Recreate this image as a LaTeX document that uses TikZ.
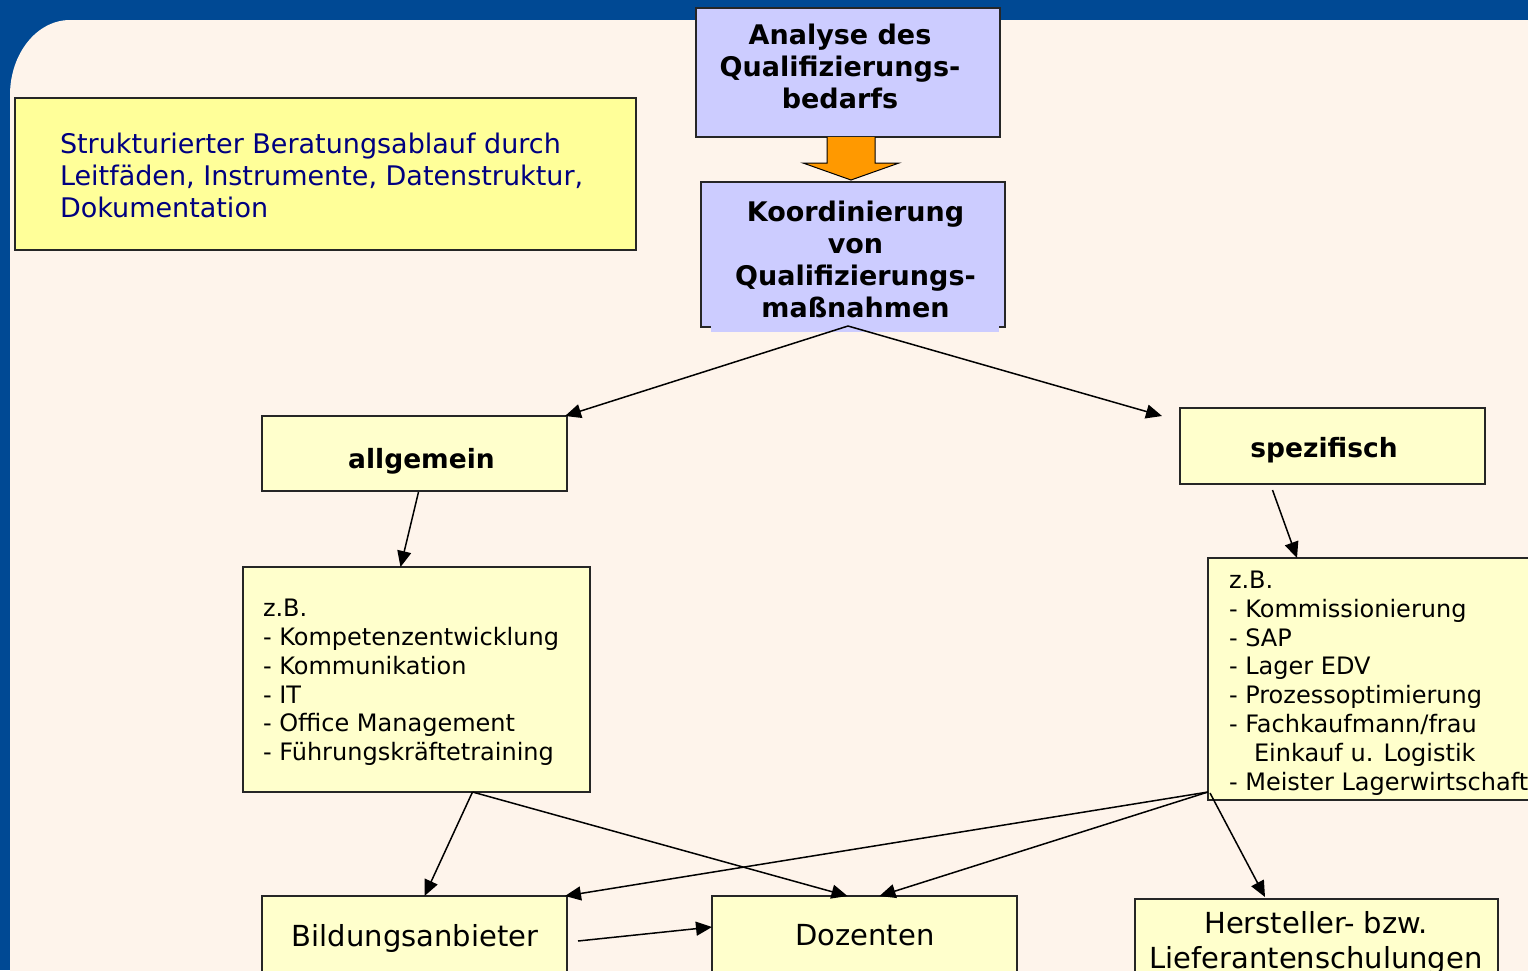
\documentclass[tikz,border=0pt]{standalone}
\usepackage{fontspec}
\setmainfont{DejaVu Sans}
\usetikzlibrary{arrows.meta,calc}
\definecolor{bgblue}{RGB}{0,73,148}
\definecolor{panel}{RGB}{254,244,235}
\definecolor{lav}{RGB}{204,204,255}
\definecolor{ly}{RGB}{255,255,204}
\definecolor{ys}{RGB}{255,255,153}
\definecolor{orng}{RGB}{255,153,0}
\definecolor{navy}{RGB}{0,0,128}
\begin{document}
\begin{tikzpicture}[x=1pt,y=-1pt,
  box/.style={draw=black!85,line width=1.8pt,inner sep=0pt,outer sep=0pt},
  txt/.style={inner sep=0pt,outer sep=0pt,font=\fontsize{24}{28.8}\selectfont},
  btxt/.style={inner sep=0pt,outer sep=0pt,align=center,font=\fontsize{27}{32}\selectfont\bfseries},
  mtxt/.style={inner sep=0pt,outer sep=0pt,align=center,font=\fontsize{26.5}{32}\selectfont\bfseries},
  ltxt/.style={inner sep=0pt,outer sep=0pt,align=center,font=\fontsize{29}{35}\selectfont},
  arr/.style={line width=1.5pt,-{Triangle[length=16pt,width=14pt]}}]
\useasboundingbox (0,0) rectangle (1528,970);
% background
\fill[bgblue] (0,0) rectangle (1528,970);
\fill[panel] (10,1100) -- (10,95) arc[start angle=180,end angle=270,x radius=60,y radius=75] -- (1700,20) -- (1700,1100) -- cycle;
% info box
\node[box,fill=ys,minimum width=621pt,minimum height=152pt] (info) at (325.5,174) {};
\node[txt,text=navy,anchor=west,align=left,font=\fontsize{27}{32}\selectfont] (infot) at (60,175)
  {Strukturierter Beratungsablauf durch\\Leitfäden, Instrumente, Datenstruktur,\\Dokumentation};
% Analyse
\node[box,fill=lav,minimum width=304pt,minimum height=129pt] (ana) at (848,72.5) {};
\node[btxt] (anat) at (840,66.5) {Analyse des\\Qualifizierungs-\\bedarfs};
% Koordinierung
\node[box,fill=lav,minimum width=304pt,minimum height=145pt] (koord) at (853,254.5) {};
\fill[lav] (711,318) rectangle (999,331.5);
\node[btxt] (koordt) at (855.5,259) {Koordinierung\\von\\Qualifizierungs-\\maßnahmen};
% orange block arrow
\coordinate (oa) at ($(ana.south)+(3,0)$);
\draw[fill=orng,line width=1pt,line join=miter] (oa) ++(-24,0) -- ++(0,26) -- ++(-24,0) -- ($(oa)+(0,43)$) -- ($(oa)+(48,26)$) -- ++(-24,0) -- ++(0,-26);
% level 2
\node[box,fill=ly,minimum width=305pt,minimum height=75pt] (allg) at (414.5,453.5) {};
\node[mtxt] (allgt) at (421.5,461) {allgemein};
\node[box,fill=ly,minimum width=305pt,minimum height=76pt] (spez) at (1332.5,446) {};
\node[mtxt] (spezt) at (1324,450) {spezifisch};
% lists
\node[box,fill=ly,minimum width=347pt,minimum height=225pt] (list1) at (416.5,679.5) {};
\node[txt,anchor=west,align=left] (list1t) at (263,682.5)
  {z.B.\\- Kompetenzentwicklung\\- Kommunikation\\- IT\\- Office Management\\- Führungskräftetraining};
\node[box,fill=ly,minimum width=337pt,minimum height=242pt] (list2) at (1376.5,679) {};
\node[txt,anchor=west,align=left] (list2t) at (1229,683)
  {z.B.\\- Kommissionierung\\- SAP\\- Lager EDV\\- Prozessoptimierung\\- Fachkaufmann/frau\\\hspace*{25pt}Einkauf u. Logistik\\- Meister Lagerwirtschaft};
% bottom
\node[box,fill=ly,minimum width=305pt,minimum height=100pt] (bild) at (414.5,946) {};
\node[ltxt] (bildt) at (415,938) {Bildungsanbieter};
\node[box,fill=ly,minimum width=305pt,minimum height=100pt] (doz) at (864.5,946) {};
\node[ltxt] (dozt) at (865,935) {Dozenten};
\node[box,fill=ly,minimum width=363pt,minimum height=100pt] (hers) at (1316.5,949) {};
\node[ltxt] (herst) at (1316,942.5) {Hersteller- bzw.\\Lieferantenschulungen};
% connectors
\draw[arr] ($(koord.south)+(-5,-1)$) -- ($(allg.north east)+(-2,0)$);
\draw[arr] ($(koord.south)+(-5,-1)$) -- ($(spez.north west)+(-18,8)$);
\draw[arr] ($(allg.south)+(4,1)$) -- ($(list1.north)+(-16,0)$);
\draw[arr] ($(spez.south)+(-60,6)$) -- ($(list2.north west)+(89,0)$);
\draw[arr] ($(list1.south)+(56,0)$) -- ($(bild.north)+(10,0)$);
\draw[arr] ($(list1.south)+(56,0)$) -- ($(doz.north)+(-17,0)$);
\draw[arr] ($(list2.south west)+(0,-8)$) -- ($(bild.north east)+(-2,0)$);
\draw[arr] ($(list2.south west)+(0,-8)$) -- ($(doz.north)+(15,0)$);
\draw[arr] ($(list2.south west)+(2,-7)$) -- ($(hers.north west)+(130,-2)$);
\draw[arr] ($(bild.east)+(11,-5)$) -- ($(doz.west)+(0,-19)$);
\end{tikzpicture}
\end{document}
